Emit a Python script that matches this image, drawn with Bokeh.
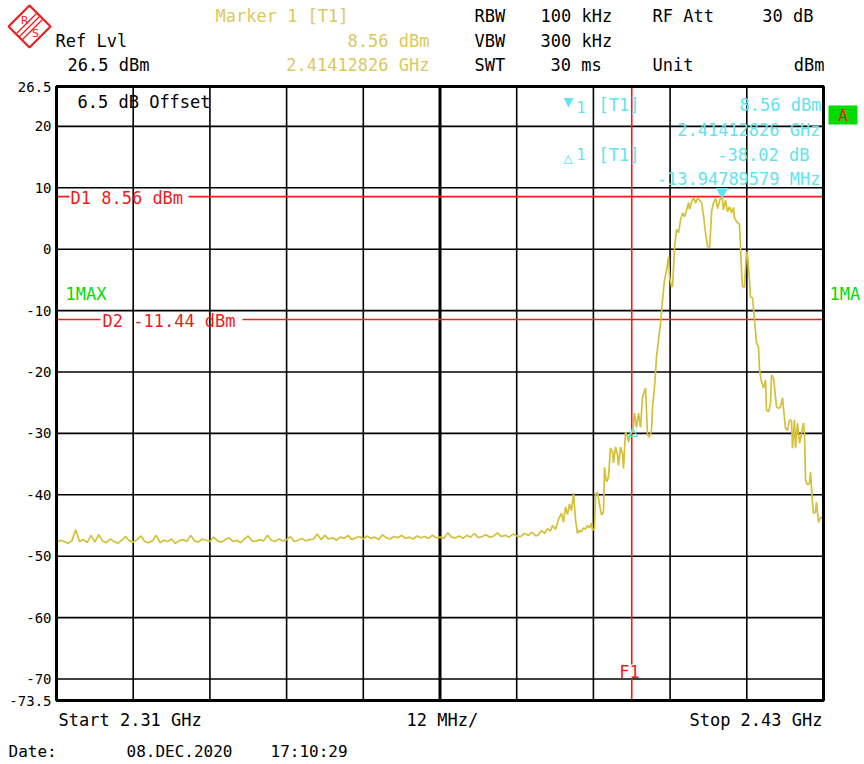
import numpy as np
from bokeh.plotting import figure
from bokeh.layouts import column
from bokeh.models import Label, FixedTicker, Range1d
from bokeh.embed import file_html
from bokeh.resources import INLINE

# ---------------- data ----------------
F_START, F_STOP = 2310.0, 2430.0          # MHz
REF_LVL, BOTTOM = 26.5, -73.5              # dBm
SPAN_DIV = 12                               # MHz/div

noise_step_mhz = 0.6
noise_db = [-47.8, -47.4, -47.6, -47.9, -47.5, -45.7, -47.6, -47.3, -47.8, -46.6,
            -47.7, -46.5, -47.5, -47.8, -47.2, -47.6, -47.9, -47.4, -46.8, -47.5,
            -47.7, -47.3, -46.7, -47.6, -47.8, -47.5, -46.6, -47.8, -47.4, -47.6,
            -47.2, -47.9, -47.5, -47.3,
            -47.6, -46.6, -47.5, -47.7, -47.2, -47.4, -47.6, -46.9, -47.5, -47.7,
            -47.3, -47.0, -47.6, -47.4, -47.8, -47.2, -46.7, -47.5, -47.6, -47.3,
            -47.5, -46.6, -47.4, -47.6, -47.2, -47.5, -47.3, -46.8, -47.6, -47.4,
            -47.1, -47.5, -47.3,
            -47.2, -46.4, -47.3, -46.6, -47.2, -47.0, -47.4, -46.9, -47.1, -46.6,
            -47.3, -47.0, -46.8, -47.2, -46.7, -47.1, -46.9, -47.3, -46.5, -47.0,
            -47.2, -46.8, -47.0, -46.6, -47.1, -46.9, -47.2, -46.7, -47.0, -46.8,
            -47.1, -46.6, -47.0, -46.9,
            -47.1, -46.2, -46.9, -47.0, -46.7, -47.1, -46.6, -46.9, -46.3, -47.0,
            -46.8, -46.5, -46.9, -46.7, -46.2, -46.8, -46.6, -46.9, -46.4, -46.7,
            -46.8, -46.3, -46.6, -46.1, -46.7]
noise_mhz = list(np.round(F_START + noise_step_mhz * np.arange(len(noise_db)), 2))

signal_mhz = [2385.41, 2385.88, 2386.35, 2386.82, 2387.29, 2387.60, 2388.07, 2388.54, 2389.01, 2389.32,
              2389.63, 2389.95, 2390.26, 2390.57, 2390.89, 2391.20, 2391.51, 2391.82, 2392.14, 2392.45,
              2392.76, 2393.08, 2393.39, 2393.70, 2393.86, 2394.17, 2394.33, 2394.64, 2394.95, 2395.27,
              2395.58, 2395.74, 2396.05, 2396.36, 2396.67, 2396.99, 2397.14, 2397.46, 2397.77, 2397.93,
              2398.24, 2398.55, 2398.71, 2399.02, 2399.33, 2399.49, 2399.80, 2400.18, 2400.43, 2400.74,
              2401.06, 2401.37, 2401.68, 2402.00, 2402.16, 2402.47, 2402.78, 2403.09, 2403.25, 2403.57,
              2403.88, 2404.19, 2404.51, 2404.82, 2405.13, 2405.45, 2405.76, 2405.92, 2406.23, 2406.39,
              2406.70, 2407.01, 2407.33, 2407.64, 2407.96, 2408.27, 2408.58, 2408.90, 2409.05, 2409.37,
              2409.68, 2409.99, 2410.31, 2410.62, 2410.93, 2411.25, 2411.56, 2411.87, 2412.19, 2412.50,
              2412.81, 2413.13, 2413.44, 2413.75, 2414.13, 2414.35, 2414.66, 2414.98, 2415.29, 2415.60,
              2415.92, 2416.08, 2416.39, 2416.86, 2417.02, 2417.17, 2417.33, 2417.64, 2417.95, 2418.11,
              2418.42, 2418.58, 2418.89, 2419.21, 2419.52, 2419.83, 2419.99, 2420.30, 2420.61, 2420.93,
              2421.08, 2421.40, 2421.71, 2421.87, 2422.18, 2422.33, 2422.65, 2422.96, 2423.27, 2423.59,
              2423.74, 2424.05, 2424.37, 2424.68, 2424.99, 2425.15, 2425.46, 2425.62, 2425.93, 2426.25,
              2426.56, 2426.87, 2427.03, 2427.19, 2427.50, 2427.81, 2427.97, 2428.28, 2428.44, 2428.75,
              2428.90, 2429.22, 2429.53, 2430.00]
signal_db = [-46.5, -45.8, -46.3, -45.5, -45.9, -45.0, -45.6, -44.0, -43.0, -44.5,
             -42.0, -43.2, -41.5, -42.6, -39.7, -44.0, -46.3, -45.8, -46.0, -45.4,
             -45.6, -45.0, -45.4, -44.6, -45.8, -45.5, -40.0, -39.6, -41.5, -43.3,
             -42.8, -35.5, -37.9, -37.2, -32.4, -33.0, -34.8, -32.2, -33.5, -35.2,
             -32.2, -33.3, -35.7, -29.8, -30.5, -31.4, -30.2, -29.46, -26.7, -29.0,
             -26.7, -29.0, -24.1, -23.0, -22.6, -30.3, -30.6, -29.5, -25.7, -22.4,
             -17.5, -14.8, -12.0, -8.2, -5.0, -3.4, -1.2, -4.5, -6.1, -6.0,
             0.3, 3.2, 2.7, 4.8, 5.9, 5.3, 6.4, 7.6, 6.5, 7.7,
             8.4, 7.5, 8.3, 8.0, 7.6, 5.3, 2.5, 0.4, 0.3, 6.2,
             7.6, 8.3, 6.6, 8.0, 8.56, 6.4, 8.0, 6.1, 6.9, 5.9,
             6.8, 5.1, 4.5, 4.0, 0.4, -3.4, -6.1, -6.2, -0.4, -0.9,
             -5.0, -7.8, -7.9, -11.5, -15.3, -15.9, -19.7, -21.6, -22.6, -21.3,
             -26.2, -26.5, -25.1, -20.5, -21.0, -22.4, -25.7, -25.9, -25.7, -24.2,
             -25.9, -29.1, -29.5, -27.8, -27.9, -32.4, -27.8, -32.4, -28.3, -31.6,
             -30.0, -28.3, -30.0, -37.6, -38.4, -38.1, -36.3, -41.4, -43.0, -42.8,
             -41.2, -44.5, -43.7, -43.8]

freq_mhz = noise_mhz + signal_mhz
level_dbm = noise_db + signal_db

y_ticks = [26.5, 20, 10, 0, -10, -20, -30, -40, -50, -60, -70, -73.5]
y_grid = [20, 10, 0, -10, -20, -30, -40, -50, -60, -70]
x_grid = [2322, 2334, 2346, 2358, 2370, 2382, 2394, 2406, 2418]

d1_dbm, d2_dbm = 8.56, -11.44
f1_mhz = 2400.0
m1_mhz, m1_dbm = 2414.12826, 8.56
dm_df_mhz, dm_ddb = -13.94789579, -38.02
offset_db = 6.5
rbw, vbw, swt, rf_att = "100 kHz", "300 kHz", "30 ms", "30 dB"
date_str, time_str = "08.DEC.2020", "17:10:29"

# ---------------- style / layout ----------------
TRACE = "#d4c03a"
HDR_YEL = "#dcc85c"
CYAN = "#62e4ee"
RED = "#f01c1c"
GREEN = "#00dc00"
MONO = "DejaVu Sans Mono"

W = 862                     # page width used
PL, PT, PR, PB = 56, 86, 823, 700   # plot area (page pixels)
HDR_H = 76                  # header strip height
MAIN_BOTTOM = 710           # bottom of main strip
FOOT_H = 52

MHZPX = (F_STOP - F_START) / (PR - PL)
DBPX = (REF_LVL - BOTTOM) / (PB - PT)
AXW = 54                    # y-axis panel width

def X(px):
    return F_START + (px - PL) * MHZPX

def Y(py):
    return REF_LVL - (py - PT) * DBPX

def no_align(f):
    try:
        f.frame_align = False
    except Exception:
        pass
    return f

def strip(height, y_top):
    f = figure(width=W, height=height, x_range=Range1d(0, W), y_range=Range1d(y_top + height, y_top),
               x_axis_type=None, y_axis_type=None, output_backend="svg", toolbar_location=None,
               min_border_left=0, min_border_right=0, min_border_top=0, min_border_bottom=0,
               outline_line_color=None, background_fill_color="white", border_fill_color="white")
    return no_align(f)

# ---------------- main plot ----------------
p = figure(frame_width=W - AXW, frame_height=MAIN_BOTTOM - HDR_H,
           x_range=Range1d(X(AXW), X(W)), y_range=Range1d(Y(MAIN_BOTTOM), Y(HDR_H)),
           output_backend="svg", toolbar_location=None,
           min_border_left=AXW, min_border_top=0, min_border_right=0, min_border_bottom=0,
           background_fill_color="white", border_fill_color="white", outline_line_color=None)
no_align(p)

p.xaxis.visible = False
p.xgrid.visible = False
p.ygrid.visible = False
ax = p.yaxis[0]
ax.ticker = FixedTicker(ticks=y_ticks)
ax.major_label_overrides = {t: f"{t:g}" for t in y_ticks}
ax.axis_line_color = None
ax.major_tick_out = 0
ax.major_tick_in = 0
ax.minor_tick_line_color = None
ax.major_label_standoff = 3
ax.major_label_text_font = MONO
ax.major_label_text_font_size = "14px"
ax.major_label_text_color = "black"

# graticule
p.segment(x0=x_grid, y0=[BOTTOM] * len(x_grid), x1=x_grid, y1=[REF_LVL] * len(x_grid),
          line_color="black", line_width=1.6)
p.segment(x0=[F_START] * len(y_grid), y0=y_grid, x1=[F_STOP] * len(y_grid), y1=y_grid,
          line_color="black", line_width=1.6)
center = F_START + 5 * SPAN_DIV
p.segment(x0=[center], y0=[BOTTOM], x1=[center], y1=[REF_LVL], line_color="black", line_width=3)

# display lines D1 / D2 with embedded text
p.segment(x0=[F_START, X(188), F_START, X(242)], y0=[d1_dbm, d1_dbm, d2_dbm, d2_dbm],
          x1=[X(69), F_STOP, X(100), F_STOP], y1=[d1_dbm, d1_dbm, d2_dbm, d2_dbm],
          line_color=RED, line_width=1.6)
# frequency line F1
p.segment(x0=[f1_mhz, f1_mhz], y0=[REF_LVL, Y(678)], x1=[f1_mhz, f1_mhz], y1=[Y(664), BOTTOM],
          line_color=RED, line_width=1.6)

# trace
p.line(freq_mhz, level_dbm, line_color=TRACE, line_width=1.7)

# frame of the screen
p.quad(left=[F_START], right=[F_STOP], bottom=[BOTTOM], top=[REF_LVL],
       fill_color=None, line_color="black", line_width=3)

# markers
p.scatter([m1_mhz], [m1_dbm + 5 * DBPX], marker="inverted_triangle", size=11,
          fill_color=CYAN, line_color=CYAN)
p.scatter([m1_mhz + dm_df_mhz], [m1_dbm + dm_ddb - 4 * DBPX], marker="triangle", size=9,
          fill_color=None, line_color=CYAN, line_width=1.3)

def lab(fig, x, y, text, color="black", align="left", size="17px", font=MONO):
    fig.add_layout(Label(x=x, y=y, text=text, text_color=color, text_align=align,
                         text_baseline="middle", text_font=font, text_font_size=size))

def mlab(px, py, text, color="black", align="left", size="17px", font=MONO):
    lab(p, X(px), Y(py), text, color, align, size, font)

mlab(77, 101, f"{offset_db:.1f} dB Offset")
mlab(65, 293, "1MAX", GREEN)
mlab(829, 293, "1MA", GREEN)
mlab(70, 197, f"D1 {d1_dbm:.2f} dBm", RED)
mlab(102, 320, f"D2 {d2_dbm:.2f} dBm", RED)
mlab(629, 671, "F1", RED, "center")

mlab(563, 101, "\u25bc", CYAN, size="16px")
mlab(576, 106, "1", CYAN, size="15px")
mlab(598, 104, "[T1]", CYAN)
mlab(821, 104, f"{m1_dbm:.2f} dBm", CYAN, "right")
mlab(820, 129, f"{m1_mhz / 1000:.8f} GHz", CYAN, "right")
mlab(563, 157, "\u25b3", CYAN, size="15px")
mlab(576, 153, "1", CYAN, size="15px")
mlab(598, 154, "[T1]", CYAN)
mlab(809, 154, f"{dm_ddb:.2f} dB", CYAN, "right")
mlab(820, 178, f"{dm_df_mhz:.8f} MHz", CYAN, "right")

# "A" box at the right of the screen
p.quad(left=[X(828)], right=[X(857)], top=[Y(105)], bottom=[Y(124)], fill_color=GREEN, line_color=None)
mlab(842.5, 114.5, "A", RED, "center", size="16px")

# ---------------- header ----------------
hd = strip(HDR_H, 0)
lab(hd, 215, 15, "Marker 1 [T1]", HDR_YEL)
lab(hd, 429, 40, f"{m1_dbm:.2f} dBm", HDR_YEL, "right")
lab(hd, 429, 64, f"{m1_mhz / 1000:.8f} GHz", HDR_YEL, "right")
lab(hd, 55, 40, "Ref Lvl")
lab(hd, 67, 64, f"{REF_LVL:.1f} dBm")
lab(hd, 474, 15, "RBW"); lab(hd, 540, 15, rbw); lab(hd, 652, 15, "RF Att")
lab(hd, 813, 15, rf_att, align="right")
lab(hd, 474, 40, "VBW"); lab(hd, 540, 40, vbw)
lab(hd, 474, 64, "SWT"); lab(hd, 550, 64, swt); lab(hd, 652, 64, "Unit")
lab(hd, 824, 64, "dBm", align="right")

# R&S logo
cx, cy, r = 29, 26, 21
hd.multi_line([[cx - 10 + o, cx + 10 + o] for o in (-3, 0, 3)],
              [[cy + 10 + o, cy - 10 + o] for o in (-3, 0, 3)], line_color=RED, line_width=1.3)
hd.patch([cx - r, cx, cx + r, cx, cx - r], [cy, cy - r, cy, cy + r, cy], fill_color=None,
         line_color=RED, line_width=2.2)
lab(hd, 24, 20, "R", RED, "center", size="11px", font="DejaVu Sans")
lab(hd, 35, 33, "S", RED, "center", size="11px", font="DejaVu Sans")

# ---------------- footer ----------------
ft = strip(FOOT_H, MAIN_BOTTOM)
lab(ft, 58, 719, f"Start {F_START / 1000:.2f} GHz")
lab(ft, 406, 719, f"{SPAN_DIV} MHz/")
lab(ft, 822, 719, f"Stop {F_STOP / 1000:.2f} GHz", align="right")
lab(ft, 8, 751, "Date:", size="16px")
lab(ft, 126, 751, date_str, size="16px")
lab(ft, 270, 751, time_str, size="16px")

layout = column(hd, p, ft, spacing=0)
open("out.html", "w").write(file_html(layout, INLINE))
